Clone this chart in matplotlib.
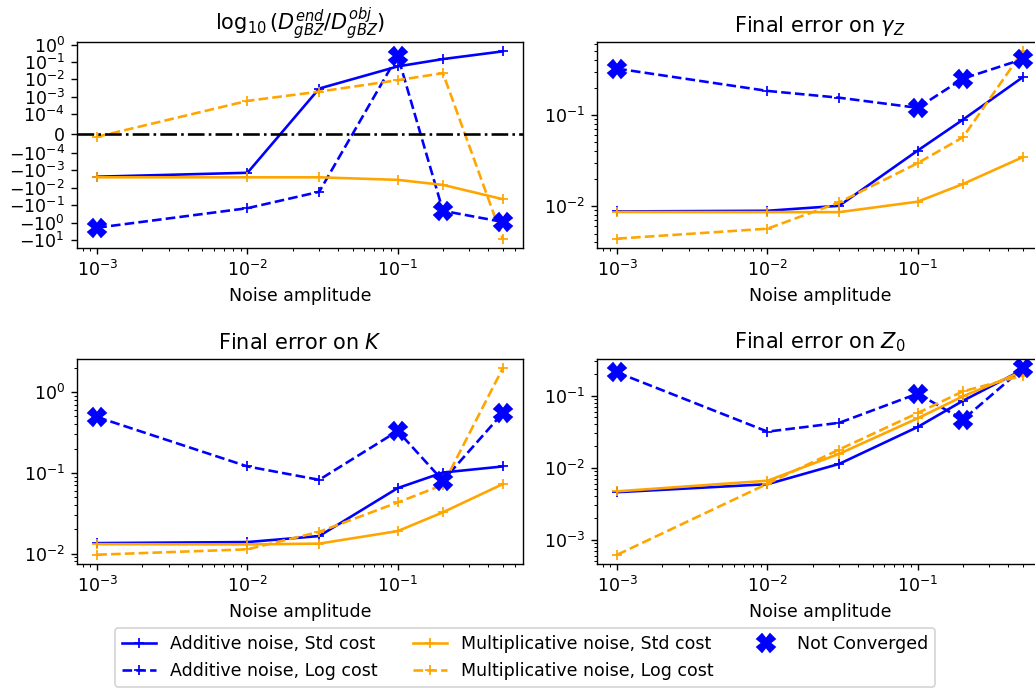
import matplotlib
matplotlib.use("Agg")
import matplotlib.pyplot as plt
from matplotlib.ticker import NullLocator

noise = [1e-3, 1e-2, 3e-2, 1e-1, 2e-1, 5e-1]
not_conv_idx = [0, 3, 4, 5]  # Additive noise, Log cost runs that did not converge

# log10(D_end / D_obj)
add_std_D = [-0.0023, -0.00137, 0.003, 0.056, 0.148, 0.41]
add_log_D = [-1.95, -0.148, -0.017, 0.23, -0.21, -0.91]
mul_std_D = [-0.0025, -0.0025, -0.0025, -0.0035, -0.0068, -0.045]
mul_log_D = [-1.6e-5, 5.9e-4, 0.002, 0.0091, 0.023, -8.3]

# Final error on gamma_Z
add_std_g = [0.00875, 0.0089, 0.0101, 0.0408, 0.089, 0.26]
add_log_g = [0.323, 0.184, 0.155, 0.12, 0.251, 0.41]
mul_std_g = [0.00863, 0.0086, 0.0086, 0.0112, 0.0175, 0.0345]
mul_log_g = [0.0044, 0.00566, 0.011, 0.0297, 0.057, 0.50]

# Final error on K
add_std_K = [0.0135, 0.0139, 0.0165, 0.0648, 0.101, 0.12]
add_log_K = [0.49, 0.12, 0.082, 0.33, 0.08, 0.55]
mul_std_K = [0.0131, 0.013, 0.0133, 0.019, 0.0325, 0.0726]
mul_log_K = [0.0097, 0.0113, 0.0186, 0.043, 0.071, 1.97]

# Final error on Z_0
add_std_Z = [0.00457, 0.0059, 0.0113, 0.0368, 0.085, 0.229]
add_log_Z = [0.21, 0.0317, 0.042, 0.107, 0.0465, 0.24]
mul_std_Z = [0.0047, 0.0066, 0.0156, 0.0486, 0.098, 0.217]
mul_log_Z = [0.00062, 0.006, 0.0179, 0.0575, 0.115, 0.19]

titles = [r'$\log_{10}(D_{gBZ}^{end}/D_{gBZ}^{obj})$',
          r'Final error on $\gamma_Z$',
          r'Final error on $K$',
          r'Final error on $Z_0$']
labels = ['Additive noise, Std cost', 'Additive noise, Log cost',
          'Multiplicative noise, Std cost', 'Multiplicative noise, Log cost',
          'Not Converged']

panels = [
    (add_std_D, add_log_D, mul_std_D, mul_log_D),
    (add_std_g, add_log_g, mul_std_g, mul_log_g),
    (add_std_K, add_log_K, mul_std_K, mul_log_K),
    (add_std_Z, add_log_Z, mul_std_Z, mul_log_Z),
]

W, H = 1035, 692
fig = plt.figure(figsize=(W / 125, H / 125), dpi=125)

def frac_rect(x0, x1, ytop, ybot):
    return [x0 / W, 1 - ybot / H, (x1 - x0) / W, (ybot - ytop) / H]

rects = [
    frac_rect(77, 523, 42, 248),
    frac_rect(597, 1043, 42, 248),
    frac_rect(77, 523, 359, 564),
    frac_rect(597, 1043, 359, 564),
]

handles = None
for i, (rect, data, title) in enumerate(zip(rects, panels, titles)):
    ax = fig.add_axes(rect)
    ax.set_xscale('log')
    if i == 0:
        ax.set_yscale('symlog', linthresh=1e-4)
    else:
        ax.set_yscale('log')
    a_s, a_l, m_s, m_l = data
    h1, = ax.plot(noise, a_s, '-', marker='+', color='blue', label=labels[0])
    h2, = ax.plot(noise, a_l, '--', marker='+', color='blue', label=labels[1])
    h3, = ax.plot(noise, m_s, '-', marker='+', color='orange', label=labels[2])
    h4, = ax.plot(noise, m_l, '--', marker='+', color='orange', label=labels[3])
    h5, = ax.plot([noise[k] for k in not_conv_idx], [a_l[k] for k in not_conv_idx],
                  'X', color='blue', markersize=10, linestyle='none', label=labels[4])
    if i == 0:
        ax.axhline(0, color='k', linestyle='-.')
        ax.relim()
        ax.autoscale_view()
        ax.yaxis.set_minor_locator(NullLocator())
    ax.set_title(title)
    ax.set_xlabel('Noise amplitude')
    if handles is None:
        handles = [h1, h2, h3, h4, h5]

fig.legend(handles, labels, loc='upper center', ncol=3,
           bbox_to_anchor=(525 / W, 1 - 628 / H), borderaxespad=0)

fig.savefig('out.png', dpi=125)
